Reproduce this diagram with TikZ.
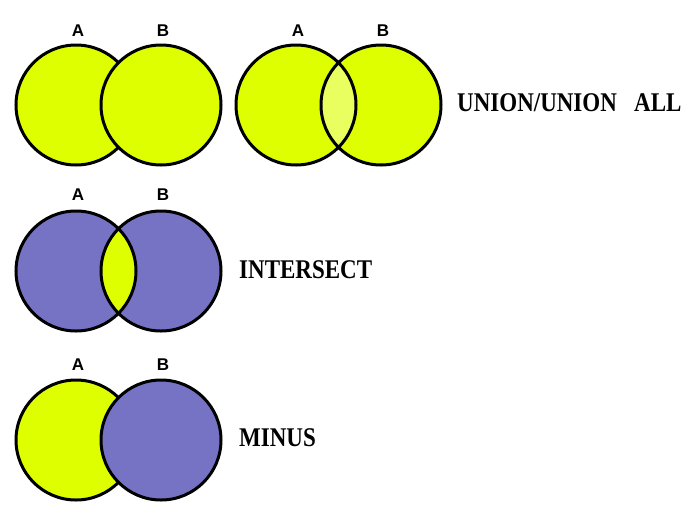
\documentclass[tikz,border=0pt]{standalone}
\usepackage{fontspec}
\usepackage{graphicx}
\setmainfont{Liberation Sans}
\newfontfamily\opfont{Liberation Serif}
\definecolor{setyellow}{RGB}{221,255,0}
\definecolor{lensyellow}{RGB}{233,255,95}
\definecolor{setpurple}{RGB}{118,115,197}
\def\rad{60pt}
\newcommand{\opname}[1]{\scalebox{0.92}[1.08]{\opfont\bfseries #1}}

\begin{document}
\begin{tikzpicture}[x=1pt,y=-1pt]
		\tikzstyle{setline}=[draw=black,line width=3pt]
		\tikzstyle{setlabel}=[font=\bfseries\fontsize{17}{17}\selectfont,inner sep=0pt]
		\tikzstyle{opnode}=[font=\fontsize{25}{25}\selectfont,anchor=west,inner sep=0pt]

		\useasboundingbox (0,0) rectangle (699,515);

			% Centres of the sets, one pair for each diagram
		\coordinate (A-1) at (76,105);
		\coordinate (B-1) at (161,105);
		\coordinate (A-2) at (296,105);
		\coordinate (B-2) at (381,105);
		\coordinate (A-3) at (76,271);
		\coordinate (B-3) at (161,271);
		\coordinate (A-4) at (76,440);
		\coordinate (B-4) at (161,440);

			% Set names above every circle
		\foreach \name / \x / \y in {1/78/31,2/298/31,3/78/195,4/78/365}
		\node[setlabel] (LA-\name) at (\x,\y) {A};
		\foreach \name / \x / \y in {1/163/31,2/383/31,3/163/195,4/163/365}
		\node[setlabel] (LB-\name) at (\x,\y) {B};

			% Union: B lies over A
		\path[setline,fill=setyellow] (A-1) circle (\rad);
		\path[setline,fill=setyellow] (B-1) circle (\rad);

			% Union all: the common part is shown lighter
		\fill[setyellow] (A-2) circle (\rad) (B-2) circle (\rad);
		\begin{scope}
		\clip (A-2) circle (\rad);
		\fill[lensyellow] (B-2) circle (\rad);
		\end{scope}
		\draw[setline] (A-2) circle (\rad) (B-2) circle (\rad);

			% Intersect: only the common part is yellow
		\fill[setpurple] (A-3) circle (\rad) (B-3) circle (\rad);
		\begin{scope}
		\clip (A-3) circle (\rad);
		\fill[setyellow] (B-3) circle (\rad);
		\end{scope}
		\draw[setline] (A-3) circle (\rad) (B-3) circle (\rad);

			% Minus: B covers A
		\path[setline,fill=setyellow] (A-4) circle (\rad);
		\path[setline,fill=setpurple] (B-4) circle (\rad);

			% Operator names
		\node[opnode] (union) at (457,103) {\opname{UNION/UNION\hspace{0.5em} ALL}};
		\node[opnode] (intersect) at (239,270) {\opname{INTERSECT}};
		\node[opnode] (minus) at (239,438) {\opname{MINUS}};
\end{tikzpicture}
\end{document}
